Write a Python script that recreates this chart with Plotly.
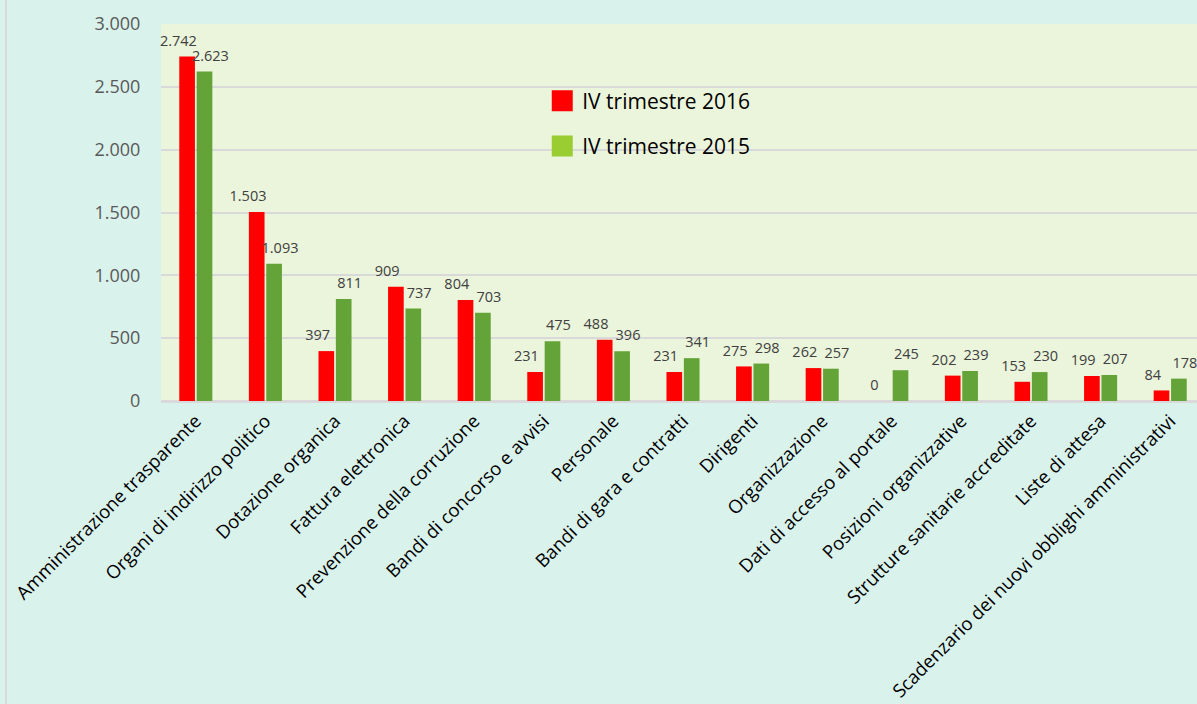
import plotly.graph_objects as go

categories = [
    "Amministrazione trasparente", "Organi di indirizzo politico", "Dotazione organica",
    "Fattura elettronica", "Prevenzione della corruzione", "Bandi di concorso e avvisi",
    "Personale", "Bandi di gara e contratti", "Dirigenti", "Organizzazione",
    "Dati di accesso al portale", "Posizioni organizzative", "Strutture sanitarie accreditate",
    "Liste di attesa", "Scadenzario dei nuovi obblighi amministrativi",
]
values_2016 = [2742, 1503, 397, 909, 804, 231, 488, 231, 275, 262, 0, 202, 153, 199, 84]
values_2015 = [2623, 1093, 811, 737, 703, 475, 396, 341, 298, 257, 245, 239, 230, 207, 178]
series_names = ["IV trimestre 2016", "IV trimestre 2015"]
y_ticks = [0, 500, 1000, 1500, 2000, 2500, 3000]

FONT = "Open Sans"
RED = "#FF0000"
GREEN = "#63A337"
LEG_GREEN = "#9ACD32"
X_RANGE = [-0.5, 14.385]
# label offsets (in category units) relative to each category centre, like the Excel labels
LABEL_DX = [-0.25, 0.21]

fig = go.Figure()
for vals, nm, col in [(values_2016, series_names[0], RED), (values_2015, series_names[1], GREEN)]:
    fig.add_trace(go.Bar(
        x=categories, y=vals, name=nm, marker_color=col,
        marker_line=dict(color=col, width=0), showlegend=False,
    ))
# data labels drawn on an overlaid numeric axis aligned to the category axis
for vals, dx in [(values_2016, LABEL_DX[0]), (values_2015, LABEL_DX[1])]:
    fig.add_trace(go.Scatter(
        x=[i + dx for i in range(len(vals))], y=vals, xaxis="x2",
        mode="markers+text", texttemplate="%{y:,}", textposition="top center",
        marker=dict(size=10, color="rgba(0,0,0,0)"),
        textfont=dict(family=FONT, size=14.5, color="#404040"),
        cliponaxis=False, showlegend=False, hoverinfo="skip",
    ))
# legend entries (the reference legend uses a lighter green swatch)
for nm, col, grp in [(series_names[0], RED, "a"), (series_names[1], LEG_GREEN, "b")]:
    fig.add_trace(go.Scatter(
        x=[None], y=[None], mode="markers", name=nm, legendgroup=grp,
        marker=dict(symbol="square", size=16, color=col, line=dict(color=col, width=5)),
    ))

W, H = 1197, 704
L, T, B = 161, 24, 303
fig.update_layout(
    width=W, height=H,
    margin=dict(l=L, r=0, t=T, b=B, autoexpand=False),
    paper_bgcolor="#DAF2EC",
    plot_bgcolor="#EBF5DB",
    separators=",.",
    barmode="group", bargap=0.5, bargroupgap=0.1,
    font=dict(family=FONT),
    legend=dict(
        x=0.368, y=0.85, xanchor="left", yanchor="top",
        bgcolor="rgba(0,0,0,0)", font=dict(family=FONT, size=21, color="#000000"),
        itemsizing="trace", tracegroupgap=15, traceorder="grouped",
    ),
    xaxis=dict(
        range=X_RANGE, tickangle=-45, automargin=False,
        tickfont=dict(family=FONT, size=18.5, color="#000000"),
        showline=True, linecolor="#D9D9D9", linewidth=2, ticks="",
        showgrid=False,
    ),
    xaxis2=dict(
        range=X_RANGE, overlaying="x", visible=False, showgrid=False, zeroline=False,
    ),
    yaxis=dict(
        range=[0, 3000], tickvals=y_ticks, tickformat=",d", automargin=False,
        tickfont=dict(family=FONT, size=18, color="#595959"),
        showgrid=True, gridcolor="#D9D9D9", gridwidth=2,
        zeroline=True, zerolinecolor="#D9D9D9", zerolinewidth=2,
        ticks="outside", ticklen=16, tickcolor="rgba(0,0,0,0)",
    ),
    shapes=[dict(
        type="line", xref="paper", yref="paper",
        x0=(6 - L) / (W - L), x1=(6 - L) / (W - L), y0=-B / (H - T - B), y1=(H - T) / (H - T - B),
        line=dict(color="#D9D9D9", width=2),
    )],
)

fig.write_html(
    "out.html",
    config={"displayModeBar": False},
    post_script="document.body.style.margin='0';document.body.style.overflow='hidden';",
)
